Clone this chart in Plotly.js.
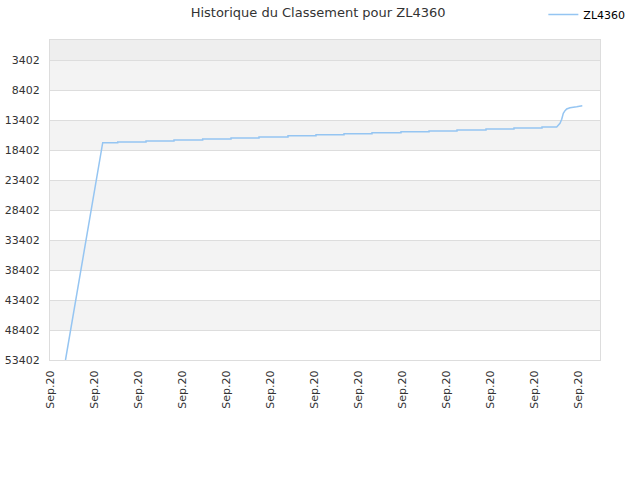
<!DOCTYPE html>
<html>
<head>
<meta charset="utf-8">
<script src="https://cdn.plot.ly/plotly-3.0.1.min.js"></script>
<style>html,body{margin:0;padding:0;background:#fff;}#chart{width:640px;height:480px;}</style>
</head>
<body>
<div id="chart"></div>
<script>
// x in tick units (one "Sep.20" tick per unit), y = rank
var dayIdx = [0.352, 1.198, 1.539, 1.539, 2.182, 2.182, 2.818, 2.818, 3.470, 3.470,
  4.114, 4.114, 4.750, 4.750, 5.409, 5.409, 6.045, 6.045, 6.682, 6.682,
  7.318, 7.318, 7.977, 7.977, 8.614, 8.614, 9.250, 9.250, 9.909, 9.909,
  10.545, 10.545, 11.182, 11.182, 11.516, 11.591, 11.630, 11.666, 11.705, 11.743,
  11.818, 11.932, 11.970, 12.098];
var rank = [53402, 17185, 17185, 17069, 17069, 16902, 16902, 16735, 16735, 16569,
  16569, 16385, 16385, 16235, 16235, 16035, 16035, 15852, 15852, 15685,
  15685, 15519, 15519, 15369, 15369, 15235, 15235, 15069, 15069, 14902,
  14902, 14735, 14735, 14569, 14569, 13952, 13285, 12285, 11852, 11569,
  11352, 11285, 11185, 11019];
var xTickVals = [0,1,2,3,4,5,6,7,8,9,10,11,12];
var xTickText = ["Sep.20","Sep.20","Sep.20","Sep.20","Sep.20","Sep.20","Sep.20","Sep.20","Sep.20","Sep.20","Sep.20","Sep.20","Sep.20"];
var yTickVals = [3402, 8402, 13402, 18402, 23402, 28402, 33402, 38402, 43402, 48402, 53402];
var yTickText = ["3402", "8402", "13402", "18402", "23402", "28402", "33402", "38402", "43402", "48402", "53402"];
var yTop = 69, yBottom = 53402;
var seriesName = "ZL4360";
var titleText = "Historique du Classement pour ZL4360";

var shapes = [];
shapes.push({type:'rect', xref:'paper', yref:'y', x0:0, x1:1, y0:yTop, y1:yTickVals[0],
  fillcolor:'#eeeeee', line:{width:0}, layer:'below'});
for (var i = 0; i < yTickVals.length - 1; i++) {
  shapes.push({type:'rect', xref:'paper', yref:'y', x0:0, x1:1, y0:yTickVals[i], y1:yTickVals[i+1],
    fillcolor: (i % 2 === 0) ? '#f3f3f3' : '#ffffff', line:{width:0}, layer:'below'});
}

var trace = {x: dayIdx, y: rank, type:'scatter', mode:'lines', name: seriesName,
  line:{color:'#95c5f2', width:1.5}};

var layout = {
  width:640, height:480,
  margin:{l:50, r:40, t:40, b:120},
  paper_bgcolor:'#ffffff', plot_bgcolor:'#ffffff',
  font:{family:'DejaVu Sans, Verdana, sans-serif', size:11, color:'#333333'},
  title:{text:titleText, x:0.497, xanchor:'center', y:0.975, yanchor:'middle',
    font:{family:'DejaVu Sans, Verdana, sans-serif', size:13, color:'#333333'}},
  showlegend:true,
  legend:{x:0.897, xref:'paper', y:1.0, yref:'container', xanchor:'left', yanchor:'top',
    orientation:'h', bgcolor:'rgba(0,0,0,0)', font:{size:11, color:'#000000'}},
  xaxis:{range:[0,12.5], tickmode:'array', tickvals:xTickVals, ticktext:xTickText,
    tickangle:-90, showgrid:false, zeroline:false, showline:true, linecolor:'#dddddd',
    mirror:true, ticks:'outside', ticklen:5, tickcolor:'rgba(0,0,0,0)', tickfont:{size:11, color:'#333333'}},
  yaxis:{range:[yBottom, yTop], tickmode:'array', tickvals:yTickVals, ticktext:yTickText,
    showgrid:true, gridcolor:'#dddddd', zeroline:false, showline:true, linecolor:'#dddddd',
    mirror:true, ticks:'outside', ticklen:7, tickcolor:'rgba(0,0,0,0)', tickfont:{size:11, color:'#333333'}},
  shapes: shapes
};

Plotly.newPlot('chart', [trace], layout, {displayModeBar:false, staticPlot:true});
</script>
</body>
</html>
